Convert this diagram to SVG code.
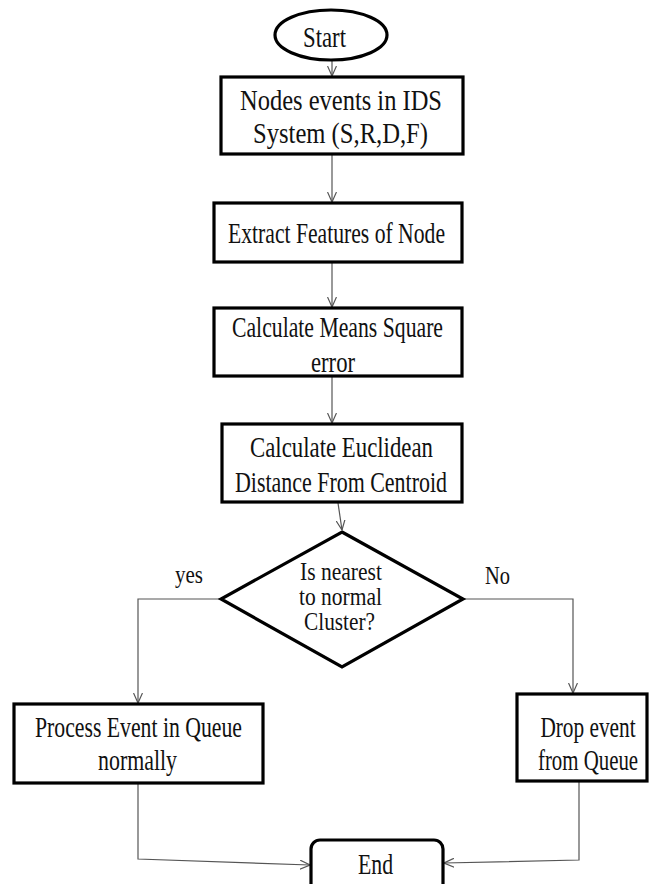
<svg xmlns="http://www.w3.org/2000/svg" width="651" height="884" viewBox="0 0 651 884">
<style>
.n{fill:#fff;stroke:#000;stroke-width:3.2}
.t{font-family:"Liberation Serif","Times New Roman",serif;fill:#111;font-size:30px}
.s{font-size:25px}
.c{fill:none;stroke:#555;stroke-width:1.2}
</style>
<defs>
<marker id="arr" viewBox="0 0 10 10" refX="10" refY="5" markerWidth="10" markerHeight="10" markerUnits="userSpaceOnUse" orient="auto">
<path d="M0,0.5 L10,5 L0,9.5" fill="none" stroke="#555" stroke-width="1.2"/>
</marker>
</defs>
<rect width="651" height="884" fill="#fff"/>
<g id="connectors">
<path class="c" d="M332,60 L332,76" marker-end="url(#arr)"/>
<path class="c" d="M332,154 L332,202" marker-end="url(#arr)"/>
<path class="c" d="M332,262 L332,307" marker-end="url(#arr)"/>
<path class="c" d="M332,376 L332,423" marker-end="url(#arr)"/>
<path class="c" d="M338,503 L342,530" marker-end="url(#arr)"/>
<path class="c" d="M221,599 L138,599 L138,703" marker-end="url(#arr)"/>
<path class="c" d="M463,599 L573,599 L573,693" marker-end="url(#arr)"/>
<path class="c" d="M138,783 L138,859 L310,865" marker-end="url(#arr)"/>
<path class="c" d="M579,781 L579,860 L444,863" marker-end="url(#arr)"/>
</g>
<g id="start">
<ellipse class="n" cx="331" cy="35" rx="56" ry="25"/>
<text class="t" x="303" y="47" font-size="28" textLength="43" lengthAdjust="spacingAndGlyphs">Start</text>
</g>
<g id="nodes-events">
<rect class="n" x="221" y="77" width="242" height="77"/>
<text class="t" x="240" y="110" font-size="32" textLength="202" lengthAdjust="spacingAndGlyphs">Nodes events in IDS</text>
<text class="t" x="253" y="143" font-size="32" textLength="175" lengthAdjust="spacingAndGlyphs">System (S,R,D,F)</text>
</g>
<g id="extract">
<rect class="n" x="214" y="203" width="248" height="59"/>
<text class="t" x="228" y="243" textLength="217" lengthAdjust="spacingAndGlyphs">Extract Features of Node</text>
</g>
<g id="mse">
<rect class="n" x="214" y="308" width="248" height="68"/>
<text class="t" x="232" y="337" textLength="211" lengthAdjust="spacingAndGlyphs">Calculate Means Square</text>
<text class="t" x="311" y="372" textLength="44" lengthAdjust="spacingAndGlyphs">error</text>
</g>
<g id="euclid">
<rect class="n" x="222" y="424" width="240" height="78"/>
<text class="t" x="250" y="457" textLength="183" lengthAdjust="spacingAndGlyphs">Calculate  Euclidean</text>
<text class="t" x="235" y="492" textLength="212" lengthAdjust="spacingAndGlyphs">Distance From Centroid</text>
</g>
<g id="decision">
<polygon class="n" points="342,532 463,599 342,667 221,599"/>
<text class="t s" x="300" y="580" textLength="82" lengthAdjust="spacingAndGlyphs">Is nearest</text>
<text class="t s" x="299" y="605" textLength="83" lengthAdjust="spacingAndGlyphs">to normal</text>
<text class="t s" x="304" y="630" textLength="71" lengthAdjust="spacingAndGlyphs">Cluster?</text>
</g>
<g id="labels">
<text class="t s" x="175" y="583" textLength="28" lengthAdjust="spacingAndGlyphs">yes</text>
<text class="t s" x="485" y="584" textLength="25" lengthAdjust="spacingAndGlyphs">No</text>
</g>
<g id="process">
<rect class="n" x="14" y="704" width="249" height="79"/>
<text class="t" x="35" y="737" textLength="207" lengthAdjust="spacingAndGlyphs">Process Event in Queue</text>
<text class="t" x="98" y="770" textLength="79" lengthAdjust="spacingAndGlyphs">normally</text>
</g>
<g id="drop">
<rect class="n" x="517" y="694" width="130" height="87"/>
<text class="t" transform="translate(588,737) scale(0.7,1)" text-anchor="middle" x="0" y="0" textLength="136" lengthAdjust="spacingAndGlyphs">Drop event</text>
<text class="t" transform="translate(588,770) scale(0.7,1)" text-anchor="middle" x="0" y="0" textLength="143" lengthAdjust="spacingAndGlyphs">from Queue</text>
</g>
<g id="end">
<rect class="n" x="311" y="840" width="132" height="60" rx="9"/>
<text class="t" x="358" y="874" textLength="35" lengthAdjust="spacingAndGlyphs">End</text>
</g>
</svg>
